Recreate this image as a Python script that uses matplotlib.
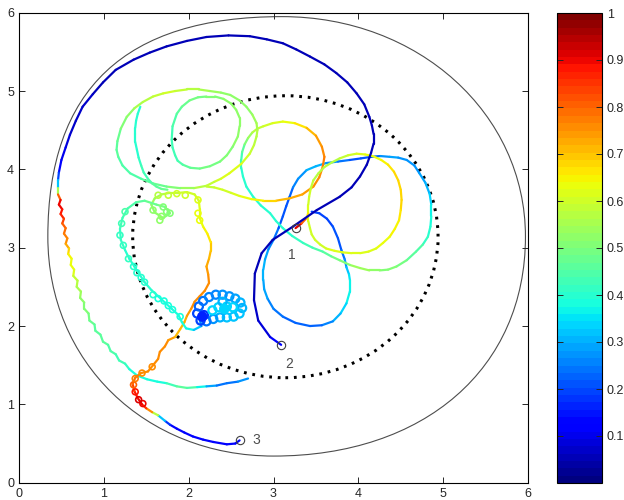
import numpy as np
import matplotlib
matplotlib.use("Agg")
import matplotlib.pyplot as plt
from matplotlib.collections import LineCollection
from matplotlib.patches import Circle, PathPatch
from matplotlib.path import Path
from matplotlib.colors import Normalize
from matplotlib.cm import ScalarMappable

plt.rcParams["font.family"] = ["Liberation Sans", "DejaVu Sans"]

# outer boundary: extreme points (top, left, bottom, right) and how full each
# quarter is (0.55 would be a plain circle; the upper left one bulges out)
bound_top = (3.10, 5.95)
bound_left = (0.34, 3.14)
bound_bottom = (3.00, 0.34)
bound_right = (5.97, 3.14)
bound_fill = [0.67, 0.57, 0.60, 0.56]  # top-left, bottom-left, bottom-right, top-right

# trajectory 2: start -> big dark arc -> wiggly left side -> ends right
traj2 = [
    (3.09, 1.76, 0.15), (2.96, 1.86, 0.10), (2.82, 2.07, 0.07), (2.77, 2.33, 0.06),
    (2.78, 2.67, 0.06), (2.86, 2.93, 0.06), (2.99, 3.10, 0.06), (3.23, 3.27, 0.05),
    (3.51, 3.48, 0.05), (3.78, 3.65, 0.05), (3.92, 3.77, 0.05), (4.02, 3.91, 0.05),
    (4.10, 4.06, 0.05), (4.15, 4.21, 0.05), (4.18, 4.33, 0.05), (4.18, 4.45, 0.05),
    (4.16, 4.56, 0.05), (4.13, 4.67, 0.05), (4.07, 4.83, 0.05), (3.98, 4.97, 0.05),
    (3.87, 5.11, 0.05), (3.74, 5.23, 0.05), (3.60, 5.34, 0.05), (3.43, 5.44, 0.05),
    (3.27, 5.53, 0.05), (3.11, 5.61, 0.05), (2.92, 5.66, 0.05), (2.72, 5.70, 0.05),
    (2.47, 5.71, 0.05), (2.21, 5.69, 0.05), (1.98, 5.64, 0.05), (1.74, 5.57, 0.05),
    (1.54, 5.49, 0.05), (1.35, 5.40, 0.06), (1.14, 5.27, 0.06), (0.99, 5.11, 0.06),
    (0.87, 4.96, 0.06), (0.75, 4.80, 0.07), (0.67, 4.62, 0.07), (0.60, 4.44, 0.08),
    (0.55, 4.28, 0.09), (0.50, 4.12, 0.10), (0.47, 3.96, 0.14), (0.46, 3.86, 0.25),
    (0.46, 3.76, 0.40), (0.46, 3.68, 0.70), (0.49, 3.61, 0.90), (0.47, 3.55, 0.90),
    (0.51, 3.49, 0.90), (0.49, 3.43, 0.88), (0.53, 3.37, 0.86), (0.51, 3.31, 0.82),
    (0.55, 3.25, 0.80), (0.53, 3.18, 0.78), (0.57, 3.12, 0.76), (0.55, 3.05, 0.74),
    (0.59, 2.99, 0.70), (0.58, 2.92, 0.67), (0.62, 2.86, 0.64), (0.61, 2.78, 0.63),
    (0.65, 2.72, 0.62), (0.64, 2.64, 0.60), (0.69, 2.58, 0.58), (0.68, 2.50, 0.56),
    (0.73, 2.44, 0.55), (0.72, 2.36, 0.53), (0.77, 2.30, 0.52), (0.77, 2.22, 0.51),
    (0.82, 2.16, 0.50), (0.83, 2.07, 0.48), (0.89, 2.02, 0.47), (0.90, 1.94, 0.46),
    (0.96, 1.89, 0.46), (0.99, 1.80, 0.46), (1.05, 1.76, 0.45), (1.08, 1.68, 0.45),
    (1.14, 1.64, 0.44), (1.18, 1.56, 0.43), (1.25, 1.52, 0.42), (1.30, 1.45, 0.40),
    (1.39, 1.37, 0.38), (1.51, 1.32, 0.38), (1.63, 1.29, 0.38), (1.74, 1.27, 0.40),
    (1.86, 1.23, 0.45), (1.98, 1.21, 0.48), (2.10, 1.22, 0.42), (2.21, 1.23, 0.32),
    (2.33, 1.24, 0.25), (2.45, 1.27, 0.22), (2.58, 1.29, 0.25), (2.70, 1.33, 0.30),
]

# trajectory 3: start -> along bottom -> orange climb -> curls -> blue cluster
traj3 = [
    (2.60, 0.54, 0.15), (2.55, 0.50, 0.13), (2.45, 0.49, 0.12), (2.29, 0.52, 0.12),
    (2.17, 0.55, 0.12), (2.05, 0.59, 0.12), (1.95, 0.64, 0.12), (1.86, 0.69, 0.13),
    (1.78, 0.74, 0.15), (1.72, 0.79, 0.20), (1.64, 0.86, 0.45), (1.57, 0.90, 0.70),
    (1.50, 0.95, 0.80), (1.45, 1.00, 0.90), (1.40, 1.08, 0.90), (1.36, 1.17, 0.88),
    (1.34, 1.26, 0.80), (1.37, 1.34, 0.78), (1.44, 1.40, 0.76), (1.52, 1.42, 0.75),
    (1.58, 1.50, 0.75), (1.64, 1.58, 0.75), (1.66, 1.67, 0.75), (1.72, 1.74, 0.75),
    (1.76, 1.82, 0.75), (1.84, 1.86, 0.72), (1.90, 1.96, 0.70), (1.95, 2.05, 0.72),
    (1.98, 2.13, 0.74), (2.03, 2.22, 0.75), (2.07, 2.31, 0.75), (2.13, 2.38, 0.76),
    (2.19, 2.45, 0.76), (2.24, 2.55, 0.75), (2.23, 2.66, 0.75), (2.21, 2.76, 0.73),
    (2.24, 2.86, 0.72), (2.26, 2.96, 0.70), (2.26, 3.07, 0.68), (2.22, 3.18, 0.66),
    (2.17, 3.27, 0.64), (2.13, 3.38, 0.62), (2.13, 3.50, 0.62), (2.12, 3.60, 0.61),
    (2.07, 3.68, 0.60), (1.98, 3.71, 0.60), (1.88, 3.70, 0.59), (1.78, 3.70, 0.58),
    (1.68, 3.68, 0.56), (1.60, 3.63, 0.55), (1.56, 3.55, 0.52), (1.60, 3.45, 0.52),
    (1.70, 3.38, 0.52), (1.78, 3.44, 0.50), (1.72, 3.52, 0.50), (1.62, 3.55, 0.48),
    (1.48, 3.60, 0.46), (1.38, 3.58, 0.45), (1.28, 3.50, 0.44), (1.22, 3.38, 0.43),
    (1.19, 3.24, 0.42), (1.20, 3.10, 0.42), (1.25, 2.97, 0.41), (1.30, 2.86, 0.40),
    (1.36, 2.76, 0.40), (1.42, 2.66, 0.40), (1.48, 2.56, 0.40), (1.56, 2.46, 0.40),
    (1.64, 2.38, 0.39), (1.72, 2.30, 0.39), (1.80, 2.22, 0.38), (1.88, 2.14, 0.38),
    (1.92, 2.05, 0.38), (1.97, 1.97, 0.37), (2.06, 1.95, 0.35), (2.15, 2.00, 0.30),
    (2.13, 2.08, 0.22),
]

# small curls along trajectory 3 (x, y, value)
curls = [
    (1.46, 1.01, 0.90), (1.41, 1.06, 0.92), (1.37, 1.16, 0.88), (1.35, 1.25, 0.80),
    (1.37, 1.33, 0.78), (1.45, 1.40, 0.76), (1.57, 1.48, 0.75),
    (1.64, 3.67, 0.57), (1.76, 3.67, 0.58), (1.86, 3.69, 0.60), (1.96, 3.67, 0.60),
    (2.11, 3.61, 0.62), (2.11, 3.44, 0.63), (2.13, 3.35, 0.64),
    (1.58, 3.48, 0.52), (1.68, 3.40, 0.52), (1.74, 3.46, 0.50), (1.78, 3.44, 0.50),
    (1.66, 3.35, 0.52), (1.70, 3.52, 0.50),
    (1.25, 3.46, 0.44), (1.21, 3.31, 0.43), (1.19, 3.16, 0.42), (1.23, 3.03, 0.42),
    (1.29, 2.86, 0.41), (1.35, 2.76, 0.40), (1.39, 2.68, 0.40), (1.44, 2.62, 0.40),
    (1.48, 2.56, 0.40), (1.58, 2.40, 0.40), (1.64, 2.35, 0.39), (1.71, 2.32, 0.39),
    (1.76, 2.26, 0.38), (1.81, 2.21, 0.38), (1.90, 2.12, 0.38),
]

# ring of loops in the blue cluster
cluster = [
    (2.10, 2.16, 0.20), (2.12, 2.25, 0.22), (2.17, 2.32, 0.24), (2.24, 2.37, 0.25),
    (2.32, 2.40, 0.26), (2.40, 2.40, 0.27), (2.48, 2.38, 0.28), (2.55, 2.35, 0.29),
    (2.61, 2.30, 0.30), (2.63, 2.23, 0.31), (2.60, 2.16, 0.32), (2.53, 2.12, 0.32),
    (2.45, 2.11, 0.32), (2.37, 2.11, 0.31), (2.29, 2.09, 0.28), (2.21, 2.06, 0.24),
    (2.14, 2.07, 0.20), (2.18, 2.14, 0.18), (2.35, 2.24, 0.33), (2.45, 2.25, 0.34),
    (2.28, 2.20, 0.33), (2.52, 2.24, 0.33), (2.40, 2.31, 0.30),
]
blob = [(2.16, 2.12, 0.17), (2.42, 2.22, 0.34)]

# trajectory 1 pieces
traj1_start = [(3.26, 3.25, 0.95), (3.33, 3.31, 0.88), (3.39, 3.38, 0.72), (3.41, 3.44, 0.62)]

loop_right = [
    (3.41, 3.44, 0.62), (3.41, 3.55, 0.61), (3.42, 3.65, 0.60), (3.44, 3.76, 0.59),
    (3.47, 3.86, 0.58), (3.53, 3.95, 0.57), (3.60, 4.03, 0.56), (3.69, 4.09, 0.57),
    (3.78, 4.14, 0.58), (3.88, 4.18, 0.59), (3.98, 4.20, 0.60), (4.08, 4.19, 0.62),
    (4.17, 4.17, 0.63), (4.27, 4.12, 0.65), (4.35, 4.06, 0.66), (4.42, 3.97, 0.67),
    (4.47, 3.86, 0.68), (4.50, 3.74, 0.68), (4.51, 3.61, 0.68), (4.50, 3.48, 0.67),
    (4.48, 3.35, 0.66), (4.43, 3.24, 0.65), (4.37, 3.14, 0.64), (4.29, 3.06, 0.63),
    (4.21, 2.99, 0.62), (4.12, 2.95, 0.62), (4.02, 2.93, 0.62), (3.92, 2.93, 0.62),
    (3.82, 2.94, 0.62), (3.72, 2.96, 0.61), (3.62, 2.99, 0.61), (3.55, 3.04, 0.60),
    (3.49, 3.10, 0.60), (3.45, 3.17, 0.60), (3.43, 3.25, 0.60), (3.41, 3.34, 0.61),
    (3.41, 3.44, 0.62),
]

traj1_main = [
    (3.45, 3.46, 0.20), (3.54, 3.44, 0.20), (3.63, 3.37, 0.20), (3.70, 3.27, 0.20),
    (3.76, 3.12, 0.21), (3.80, 2.97, 0.22), (3.84, 2.85, 0.26), (3.86, 2.75, 0.30),
    (3.89, 2.66, 0.34), (3.90, 2.59, 0.36), (3.90, 2.44, 0.37), (3.86, 2.29, 0.36),
    (3.79, 2.16, 0.32), (3.70, 2.06, 0.28), (3.57, 2.01, 0.24), (3.43, 2.00, 0.22),
    (3.26, 2.04, 0.22), (3.11, 2.12, 0.22), (3.00, 2.22, 0.25), (2.93, 2.35, 0.28),
    (2.89, 2.47, 0.29), (2.88, 2.59, 0.30), (2.88, 2.72, 0.30), (2.90, 2.85, 0.30),
    (2.94, 2.98, 0.28), (3.00, 3.10, 0.25), (3.06, 3.25, 0.22), (3.11, 3.40, 0.20),
    (3.15, 3.53, 0.21), (3.19, 3.65, 0.22), (3.23, 3.77, 0.24), (3.29, 3.88, 0.26),
    (3.39, 3.99, 0.30), (3.50, 4.04, 0.30), (3.62, 4.08, 0.30), (3.76, 4.10, 0.26),
    (3.90, 4.12, 0.22), (4.03, 4.14, 0.21), (4.15, 4.16, 0.20), (4.26, 4.17, 0.25),
    (4.37, 4.16, 0.30), (4.47, 4.15, 0.29), (4.57, 4.12, 0.27), (4.66, 4.05, 0.27),
    (4.72, 3.95, 0.28), (4.79, 3.83, 0.30), (4.84, 3.69, 0.32), (4.86, 3.55, 0.35),
    (4.86, 3.40, 0.37), (4.85, 3.27, 0.39), (4.82, 3.14, 0.40), (4.76, 3.04, 0.43),
    (4.68, 2.95, 0.45), (4.57, 2.84, 0.48), (4.45, 2.76, 0.50), (4.35, 2.72, 0.51),
    (4.25, 2.71, 0.52), (4.13, 2.71, 0.54), (4.02, 2.74, 0.55), (3.90, 2.78, 0.52),
    (3.78, 2.84, 0.50), (3.68, 2.89, 0.47), (3.58, 2.95, 0.45), (3.46, 3.00, 0.43),
    (3.35, 3.06, 0.42), (3.22, 3.15, 0.41), (3.11, 3.25, 0.40), (3.03, 3.34, 0.40),
    (2.96, 3.44, 0.40), (2.85, 3.54, 0.40), (2.76, 3.65, 0.40), (2.68, 3.78, 0.40),
    (2.64, 3.91, 0.40), (2.62, 4.02, 0.41), (2.62, 4.12, 0.42), (2.63, 4.22, 0.45),
    (2.66, 4.32, 0.48), (2.70, 4.40, 0.52), (2.75, 4.47, 0.55), (2.81, 4.52, 0.58),
    (2.88, 4.55, 0.60), (2.99, 4.59, 0.61), (3.11, 4.61, 0.62), (3.25, 4.59, 0.65),
    (3.39, 4.53, 0.69), (3.50, 4.43, 0.73), (3.57, 4.29, 0.76), (3.60, 4.16, 0.77),
    (3.58, 4.03, 0.77), (3.54, 3.90, 0.76), (3.47, 3.78, 0.75), (3.34, 3.68, 0.74),
    (3.19, 3.63, 0.72), (3.03, 3.60, 0.69), (2.88, 3.60, 0.66), (2.74, 3.62, 0.63),
    (2.60, 3.66, 0.62), (2.50, 3.70, 0.61), (2.40, 3.74, 0.60), (2.30, 3.77, 0.59),
    (2.21, 3.78, 0.58),
]

loop_left = [
    (2.21, 3.79, 0.58), (2.06, 3.76, 0.55), (1.90, 3.76, 0.52), (1.74, 3.78, 0.49),
    (1.58, 3.82, 0.46), (1.44, 3.88, 0.45), (1.31, 3.95, 0.44), (1.22, 4.05, 0.44),
    (1.17, 4.16, 0.45), (1.15, 4.25, 0.46), (1.16, 4.36, 0.47), (1.20, 4.52, 0.49),
    (1.27, 4.67, 0.52), (1.36, 4.78, 0.54), (1.46, 4.86, 0.56), (1.58, 4.93, 0.58),
    (1.70, 4.97, 0.60), (1.84, 5.00, 0.59), (1.98, 5.02, 0.58), (2.12, 5.02, 0.56),
    (2.25, 5.00, 0.55), (2.38, 4.98, 0.53), (2.49, 4.95, 0.52), (2.60, 4.88, 0.52),
    (2.68, 4.80, 0.52), (2.75, 4.70, 0.53), (2.80, 4.59, 0.55), (2.81, 4.50, 0.56),
    (2.80, 4.42, 0.57), (2.77, 4.31, 0.58), (2.72, 4.20, 0.60), (2.62, 4.07, 0.61),
    (2.48, 3.95, 0.62), (2.38, 3.88, 0.61), (2.30, 3.84, 0.60), (2.21, 3.79, 0.58),
]

loop_mid = [
    (1.80, 4.38, 0.43), (1.81, 4.55, 0.44), (1.86, 4.71, 0.45), (1.92, 4.80, 0.46),
    (2.01, 4.88, 0.48), (2.11, 4.92, 0.49), (2.21, 4.93, 0.50), (2.31, 4.93, 0.51),
    (2.41, 4.90, 0.52), (2.50, 4.84, 0.52), (2.56, 4.76, 0.52), (2.60, 4.66, 0.52),
    (2.60, 4.55, 0.52), (2.58, 4.42, 0.52), (2.52, 4.29, 0.52), (2.45, 4.18, 0.51),
    (2.37, 4.10, 0.50), (2.25, 4.04, 0.49), (2.13, 4.01, 0.48), (2.02, 4.02, 0.46),
    (1.93, 4.06, 0.45), (1.87, 4.11, 0.44), (1.84, 4.18, 0.43), (1.81, 4.28, 0.43),
    (1.80, 4.38, 0.43),
]

inner_arc = [
    (1.43, 4.80, 0.40), (1.40, 4.71, 0.40), (1.38, 4.62, 0.40), (1.37, 4.53, 0.40),
    (1.37, 4.45, 0.40), (1.37, 4.35, 0.40), (1.39, 4.25, 0.40), (1.41, 4.15, 0.41),
    (1.44, 4.05, 0.42), (1.47, 3.96, 0.43), (1.52, 3.88, 0.44), (1.57, 3.82, 0.45),
    (1.62, 3.78, 0.46), (1.68, 3.75, 0.47), (1.75, 3.74, 0.48),
]

start_x = [3.26, 3.09, 2.60]
start_y = [3.25, 1.76, 0.54]
start_labels = ["1", "2", "3"]
label_x = [3.22, 3.18, 2.80]
label_y = [2.91, 1.52, 0.55]

cbar_ticks = [0.1, 0.2, 0.3, 0.4, 0.5, 0.6, 0.7, 0.8, 0.9, 1.0]
cbar_labels = ["0.1", "0.2", "0.3", "0.4", "0.5", "0.6", "0.7", "0.8", "0.9", "1"]

cmap = plt.get_cmap("jet", 64)
norm = Normalize(0, 1)

fig = plt.figure(figsize=(6.24, 5.0), dpi=100)
ax = fig.add_axes([19 / 624, 1 - 482.7 / 500, 509 / 624, 470 / 500])
cax = fig.add_axes([557 / 624, 1 - 483 / 500, 45 / 624, 470 / 500])


def draw_path(pts, lw=1.6):
    p = np.array(pts)
    seg = np.stack([p[:-1, :2], p[1:, :2]], axis=1)
    lc = LineCollection(seg, cmap=cmap, norm=norm, linewidths=lw,
                        capstyle="round", joinstyle="round")
    lc.set_array(0.5 * (p[:-1, 2] + p[1:, 2]))
    ax.add_collection(lc)


def draw_curls(pts, size, lw=1.2, filled=False):
    p = np.array(pts)
    cols = cmap(norm(p[:, 2]))
    ax.scatter(p[:, 0], p[:, 1], s=size, facecolors=cols if filled else "none",
               edgecolors=cols, linewidths=lw, zorder=2)


def boundary_path():
    # four cubic quarters through the extreme points, going counter-clockwise
    pts = [bound_top, bound_left, bound_bottom, bound_right, bound_top]
    verts = [bound_top]
    for i in range(4):
        a, b = np.array(pts[i]), np.array(pts[i + 1])
        k = bound_fill[i]
        if i % 2 == 0:  # leaves horizontally, arrives vertically
            c1 = a + [k * (b[0] - a[0]), 0]
            c2 = b + [0, k * (a[1] - b[1])]
        else:           # leaves vertically, arrives horizontally
            c1 = a + [0, k * (b[1] - a[1])]
            c2 = b + [k * (a[0] - b[0]), 0]
        verts += [tuple(c1), tuple(c2), tuple(b)]
    codes = [Path.MOVETO] + [Path.CURVE4] * 12
    return Path(verts, codes)


# outer boundary and dotted circle
ax.add_patch(PathPatch(boundary_path(), fill=False, ec="0.3", lw=0.8))
ax.add_patch(Circle((3.14, 3.14), 1.8, fill=False, ec="k", lw=2.2,
                    linestyle=(0, (0.9, 1.9))))

for path in [traj1_main, loop_left, loop_mid, inner_arc, loop_right, traj1_start]:
    draw_path(path)
draw_path(traj2)
draw_path(traj3)
draw_curls(curls, 18)
draw_curls(cluster, 34, lw=1.6)
draw_curls(blob, 40, filled=True)

ax.plot(start_x, start_y, "o", mfc="none", mec="0.25", ms=6, mew=0.8, zorder=3)
for lx, ly, t in zip(label_x, label_y, start_labels):
    ax.text(lx, ly, t, color="0.3", fontsize=10, ha="center", va="center")

ax.set_xlim(0, 6)
ax.set_ylim(0, 6)
ax.set_xticks(range(7))
ax.set_yticks(range(7))
ax.tick_params(direction="in", top=True, right=True, length=4, labelsize=9,
               colors="0.15", width=0.7)
for s in ax.spines.values():
    s.set_linewidth(0.8)

cb = fig.colorbar(ScalarMappable(norm=norm, cmap=cmap), cax=cax, ticks=cbar_ticks)
cb.set_ticklabels(cbar_labels)
cax.yaxis.set_ticks_position("both")
cax.tick_params(direction="in", length=4, labelsize=9, colors="0.15", width=0.7,
                labelleft=False, labelright=True)
cb.outline.set_linewidth(0.8)

fig.savefig("out.png", dpi=100)
